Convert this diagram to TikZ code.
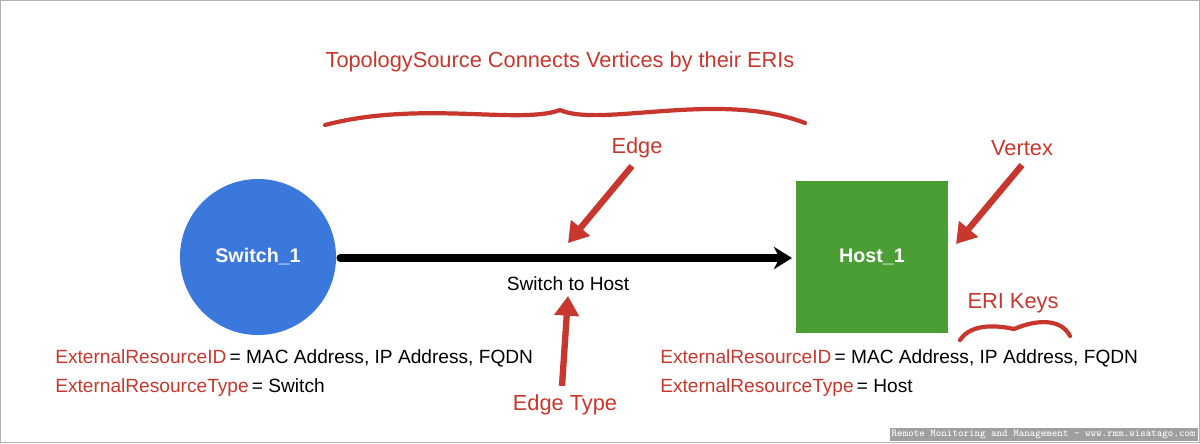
\documentclass[tikz,border=0pt]{standalone}
\usepackage{fontspec}
\setmainfont{Liberation Sans}
\usetikzlibrary{arrows.meta,positioning}
\definecolor{swblue}{HTML}{3B78DB}
\definecolor{hostgreen}{HTML}{4A9E34}
\definecolor{notered}{HTML}{C8372D}
\tikzset{
  note/.style={text=notered, font=\fontsize{15.5}{18}\selectfont},
  plain/.style={text=black, font=\fontsize{13.6}{17}\selectfont},
  pointer/.style={draw=notered, line width=4.5pt, -{Triangle[length=14pt,width=17pt]}},
  squiggle/.style={draw=notered, line width=3pt, line cap=round}
}
\begin{document}
\begin{tikzpicture}[x=0.025cm,y=-0.025cm]
            \useasboundingbox (0,0) rectangle (1200,443);
            \draw[gray!60, line width=0.8pt] (0.5,0.5) rectangle (1199.5,442.5);

            % vertices
            \node[circle, fill=swblue, minimum size=3.9cm, text=white, font=\bfseries\fontsize{14}{17}\selectfont] (sw) at (258,257) {Switch\_1};
            \node[fill=hostgreen, minimum size=3.8cm, text=white, font=\bfseries\fontsize{14}{17}\selectfont] (host) at (872,257) {Host\_1};

            % edge
            \coordinate (E1) at (340,258);
            \coordinate (E2) at (792,258);
            \draw[line width=5pt, line cap=round, -{Stealth[length=13pt,width=16pt]}] (E1) -- (E2);
            \node[plain] (etype) at (568,284) {Switch to Host};

            % notes
            \node[note] (title) at (560,62) {TopologySource Connects Vertices by their ERIs};
            \draw[squiggle] (325,125) .. controls (420,100) and (520,125) .. (560,110)
                                      .. controls (600,128) and (720,90) .. (805,123);

            \node[note] (edge) at (637,148) {Edge};
            \coordinate (EA) at (568,243);
            \draw[pointer] (632,166) -- (EA);

            \node[note] (vertex) at (1022,148) {Vertex};
            \coordinate (VA) at (956,244);
            \draw[pointer] (1022,165) -- (VA);

            \node[note] (etnote) at (565,405) {Edge Type};
            \draw[pointer] (etnote.north) ++(-3,-4) coordinate (TA) -- (etype.south);

            \node[note] (keys) at (1013,303) {ERI Keys};
            \draw[squiggle] (960,340) .. controls (972,322) and (1000,326) .. (1014,329)
                                      .. controls (1040,318) and (1062,320) .. (1070,336);

            % attributes
            \node[anchor=west, inner sep=0pt, plain] (swid) at (55,358) {\textcolor{notered}{ExternalResourceID}\,= MAC Address, IP Address, FQDN};
            \node[anchor=west, inner sep=0pt, plain] (swtype) at (55,388) {\textcolor{notered}{ExternalResourceType}\,= Switch};
            \node[anchor=west, inner sep=0pt, plain] (hid) at (660,358) {\textcolor{notered}{ExternalResourceID}\,= MAC Address, IP Address, FQDN};
            \node[anchor=west, inner sep=0pt, plain] (htype) at (660,388) {\textcolor{notered}{ExternalResourceType}\,= Host};

            \node[fill=gray!75, text=white, anchor=south east, inner sep=1.5pt, font=\ttfamily\fontsize{7.4}{8}\selectfont] (mark) at (1198,441) {Remote Monitoring and Management - www.rmm.wisatago.com};
\end{tikzpicture}
\end{document}
